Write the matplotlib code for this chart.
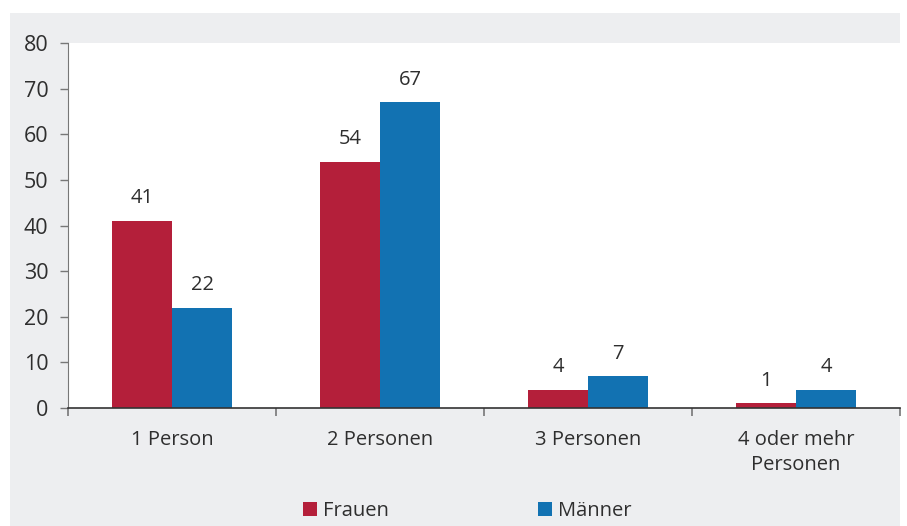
import numpy as np
import matplotlib
matplotlib.use("Agg")
import matplotlib.pyplot as plt
from matplotlib.patches import Rectangle

# data
categories = ["1 Person", "2 Personen", "3 Personen", "4 oder mehr\nPersonen"]
frauen = [41, 54, 4, 1]
maenner = [22, 67, 7, 4]
series_names = ["Frauen", "Männer"]

RED = "#B41F3A"
BLUE = "#1272B2"
TEXT = "#2e2e2e"
PANEL = "#EDEEF0"
FS = 14.5

plt.rcParams["font.family"] = ["Open Sans", "DejaVu Sans"]

W, H = 907, 526
fig = plt.figure(figsize=(W / 100, H / 100), dpi=100)
fig.patch.set_facecolor("white")

# grey panel behind everything
fig.patches.append(Rectangle((10 / W, 0), 890 / W, (H - 13) / H,
                             transform=fig.transFigure, facecolor=PANEL,
                             edgecolor="none", zorder=-10))

ax = fig.add_axes([68 / W, (H - 408) / H, 832 / W, 365 / H])
ax.set_facecolor("white")

x = np.arange(len(categories))
w = 60 / 208
b1 = ax.bar(x - w / 2, frauen, w, color=RED, label=series_names[0], zorder=2)
b2 = ax.bar(x + w / 2, maenner, w, color=BLUE, label=series_names[1], zorder=2)

for bars, vals in [(b1, frauen), (b2, maenner)]:
    for r, v in zip(bars, vals):
        ax.annotate(str(v), (r.get_x() + r.get_width() / 2, v),
                    xytext=(0, 9), textcoords="offset points",
                    ha="center", va="bottom", fontsize=FS, color=TEXT)

ax.set_xlim(-0.5, len(categories) - 0.5)
ax.set_ylim(0, 80)
ax.set_yticks(range(0, 81, 10))
ax.tick_params(axis="y", length=6, width=1, color="#777777",
               labelsize=15.5, labelcolor=TEXT, pad=8)

# category labels in the middle, ticks on the boundaries
ax.set_xticks(np.arange(-0.5, len(categories), 1))
ax.set_xticklabels([])
ax.set_xticks(x, minor=True)
ax.set_xticklabels(categories, minor=True, fontsize=FS, color=TEXT,
                   linespacing=1.3)
ax.tick_params(axis="x", which="major", length=6, width=1.2, color="#777777")
ax.tick_params(axis="x", which="minor", length=0, pad=16)

for s in ["top", "right"]:
    ax.spines[s].set_visible(False)
ax.spines["left"].set_color("#777777")
ax.spines["bottom"].set_color("#333333")
ax.spines["bottom"].set_linewidth(1.2)

fig.legend(handles=[b1, b2], loc="center", bbox_to_anchor=(467 / W, 15 / H),
           ncol=2, frameon=False, fontsize=FS, handlelength=0.7,
           handleheight=0.7, handletextpad=0.3, columnspacing=7.4,
           labelcolor=TEXT)

fig.savefig("out.png", dpi=100, facecolor="white")
